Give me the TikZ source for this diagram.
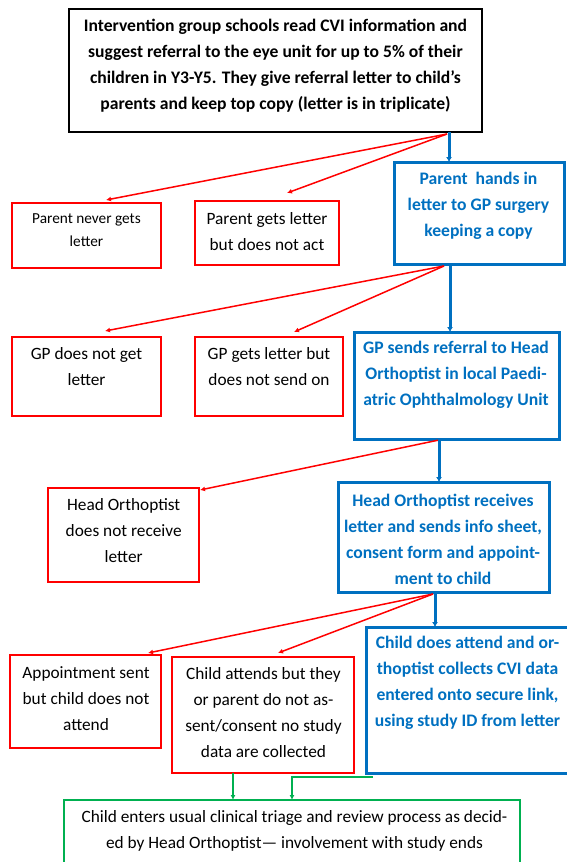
\documentclass[tikz,border=0pt]{standalone}
\usepackage{fontspec}
\setmainfont{Carlito}
\usetikzlibrary{arrows.meta}
\definecolor{rd}{HTML}{FF0000}
\definecolor{bl}{HTML}{0070C0}
\definecolor{gr}{HTML}{00B050}
\tikzset{
  box/.style={rectangle, inner sep=0pt, outer sep=0pt},
  blackbox/.style={box, draw=black, line width=2.3pt},
  redbox/.style={box, draw=rd, line width=2.3pt},
  bluebox/.style={box, draw=bl, line width=3pt},
  greenbox/.style={box, draw=gr, line width=2.6pt},
  txt/.style={align=center, inner sep=0pt, font=\fontsize{17.3}{26}\selectfont},
  smalltxt/.style={align=center, inner sep=0pt, font=\fontsize{15.3}{23}\selectfont},
  btxt/.style={align=center, inner sep=0pt, font=\bfseries\fontsize{17.6}{26}\selectfont},
  bluetxt/.style={btxt, text=bl},
  redarr/.style={draw=rd, line width=1.5pt, -{Latex[length=5pt,width=5pt]}},
  bluearr/.style={draw=bl, line width=3pt, -{Latex[length=5pt,width=6pt]}},
  greenarr/.style={draw=gr, line width=1.5pt, -{Latex[length=5pt,width=5pt]}},
}
\begin{document}
\begin{tikzpicture}[x=1pt,y=-1pt]
\useasboundingbox (0,0) rectangle (566,862);
% boxes
\node[blackbox, minimum width=413, minimum height=123] (top) at (275.5,70.5) {};
\node[btxt] (topT) at (275.5,66) {Intervention group schools read CVI information and\\suggest referral to the eye unit for up to 5\% of their\\children in Y3-Y5. They give referral letter to child’s\\parents and keep top copy (letter is in triplicate)};

\node[redbox, minimum width=149, minimum height=65] (png) at (86.5,235.5) {};
\node[smalltxt] (pngT) at (86.5,230) {Parent never gets\\letter};
\node[redbox, minimum width=144, minimum height=64] (pgl) at (267,233) {};
\node[txt] (pglT) at (267,231.5) {Parent gets letter\\but does not act};
\node[bluebox, minimum width=170, minimum height=102] (ph) at (479,213) {};
\node[bluetxt] (phT) at (478.5,206) {Parent\ \ hands in\\letter to GP surgery\\keeping a copy};

\node[redbox, minimum width=149, minimum height=79] (gpn) at (86.5,376.5) {};
\node[txt] (gpnT) at (86.5,366.5) {GP does not get\\letter};
\node[redbox, minimum width=148, minimum height=79] (gpg) at (269,376.5) {};
\node[txt] (gpgT) at (269,366.5) {GP gets letter but\\does not send on};
\node[bluebox, minimum width=205, minimum height=107] (gps) at (456.5,385.5) {};
\node[bluetxt] (gpsT) at (456,375) {GP sends referral to Head\\Orthoptist in local Paedi-\\atric Ophthalmology Unit};

\node[redbox, minimum width=151, minimum height=94] (hon) at (123.5,535) {};
\node[txt] (honT) at (123.7,531) {Head Orthoptist\\does not receive\\letter};
\node[bluebox, minimum width=211, minimum height=110] (hor) at (443.5,537) {};
\node[bluetxt] (horT) at (443,539) {Head Orthoptist receives\\letter and sends info sheet,\\consent form and appoint-\\ment to child};

\node[redbox, minimum width=151, minimum height=93] (asn) at (85.5,701.5) {};
\node[txt] (asnT) at (86,699) {Appointment sent\\but child does not\\attend};
\node[redbox, minimum width=182, minimum height=116] (cab) at (263,715) {};
\node[txt] (cabT) at (263.5,713) {Child attends but they\\or parent do not as-\\sent/consent no study\\data are collected};
\node[bluebox, minimum width=202, minimum height=146] (cda) at (467,700) {};
\node[bluetxt] (cdaT) at (467.5,683) {Child does attend and or-\\thoptist collects CVI data\\entered onto secure link,\\using study ID from letter};

\node[greenbox, minimum width=456, minimum height=68] (end) at (292,834) {};
\node[txt] (endT) at (294.5,831) {Child enters usual clinical triage and review process as decid-\\ed by Head Orthoptist— involvement with study ends};

% connector end points
\coordinate (t1) at (447,134);
\coordinate (t2) at (449,132);
\coordinate (png1) at (106,200);
\coordinate (pgl1) at (287,193);
\coordinate (p1) at (444,266);
\coordinate (p2) at (450,264);
\coordinate (gpn1) at (105,331);
\coordinate (gpg1) at (294,332);
\coordinate (g1) at (439,440);
\coordinate (g2) at (439,439);
\coordinate (hon1) at (200,490);
\coordinate (h1) at (433,594);
\coordinate (h2) at (435,592);
\coordinate (asn1) at (148,653);
\coordinate (cab1) at (278,653);
\coordinate (c1) at (233,773);
\coordinate (d1) at (373,777);
\coordinate (e1) at (292,777);

% connectors
\draw[redarr] (t1) -- (png1);
\draw[redarr] (t1) -- (pgl1);
\draw[bluearr] (t2) -- (t2 |- ph.north);
\draw[redarr] (p1) -- (gpn1);
\draw[redarr] (p1) -- (gpg1);
\draw[bluearr] (p2) -- (p2 |- gps.north);
\draw[redarr] (g1) -- (hon1);
\draw[bluearr] (g2) -- (g2 |- hor.north);
\draw[redarr] (h1) -- (asn1);
\draw[redarr] (h1) -- (cab1);
\draw[bluearr] (h2) -- (h2 |- cda.north);
\draw[greenarr] (c1) -- (c1 |- end.north);
\draw[greenarr] (d1) -- (e1) -- (e1 |- end.north);
\end{tikzpicture}
\end{document}
